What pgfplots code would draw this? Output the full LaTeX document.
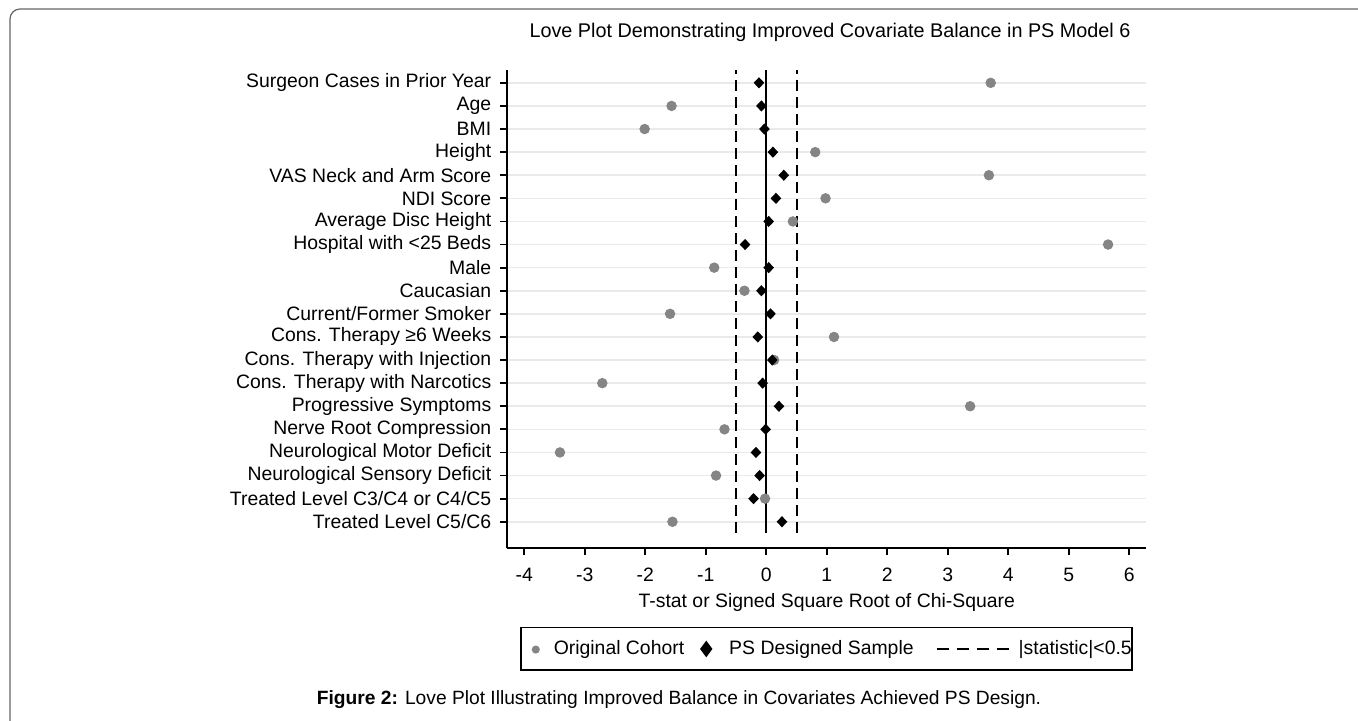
\documentclass[border=0pt]{standalone}
\usepackage{fontspec}
\setmainfont{Liberation Sans}
\usepackage{pgfplots}
\pgfplotsset{compat=1.18}
\definecolor{circgray}{HTML}{858585}
\definecolor{gridgray}{HTML}{EAEAEA}
\definecolor{framegray}{HTML}{666666}
\pgfdeclareplotmark{bigdiamond}{%
  \pgfpathmoveto{\pgfqpoint{0pt}{\pgfplotmarksize}}%
  \pgfpathlineto{\pgfqpoint{0.95\pgfplotmarksize}{0pt}}%
  \pgfpathlineto{\pgfqpoint{0pt}{-\pgfplotmarksize}}%
  \pgfpathlineto{\pgfqpoint{-0.95\pgfplotmarksize}{0pt}}%
  \pgfpathclose\pgfusepathqfill}
\begin{document}
\begin{tikzpicture}
\useasboundingbox (0,0) rectangle (679pt,360pt);
\clip (0,0) rectangle (679pt,360pt);
\draw[framegray, line width=0.6pt, rounded corners=5pt] (5pt,-20pt) -- (5pt,355.5pt) -- (700pt,355.5pt);
\begin{axis}[
  at={(253.65pt,85.85pt)}, anchor=south west,
  x=30.25pt, y=11.55pt,
  xmin=-4.28, xmax=6.28, ymin=-0.15, ymax=20.55,
  axis lines*=left,
  axis line style={line width=1pt,-},
  xtick={-4,-3,-2,-1,0,1,2,3,4,5,6},
  xticklabels={-4,-3,-2,-1,0,1,2,3,4,5,6},
  ytick={1,...,20},
  yticklabels={Treated Level C5/C6, Treated Level C3/C4 or C4/C5, Neurological Sensory Deficit, Neurological Motor Deficit, Nerve Root Compression, Progressive Symptoms, Cons. Therapy with Narcotics, Cons. Therapy with Injection, Cons. Therapy ≥6 Weeks, Current/Former Smoker, Caucasian, Male, Hospital with <25 Beds, Average Disc Height, NDI Score, VAS Neck and Arm Score, Height, BMI, Age, Surgeon Cases in Prior Year},
  tick align=outside, major tick length=3.5pt,
  tick style={black, line width=0.9pt},
  ymajorgrids, grid style={gridgray, line width=0.8pt},
  font=\fontsize{9.7}{12}\selectfont,
  ticklabel style={font=\fontsize{9.7}{12}\selectfont},
  xticklabel style={yshift=-3pt},
  yticklabel style={xshift=-1pt},
  xlabel={T-stat or Signed Square Root of Chi-Square},
  xlabel style={at={(axis description cs:0.5,-0.1123)}, anchor=center, font=\fontsize{9.7}{12}\selectfont},
  legend columns=3,
  legend style={at={(axis description cs:0.4992,-0.2105)}, anchor=center, draw=black, line width=0.8pt,
    font=\fontsize{9.7}{12}\selectfont, inner xsep=0pt, inner ysep=6pt,
    nodes={inner sep=0pt, text height=7.3pt, text depth=2pt},
    column sep=0pt},
]
\addplot[only marks, mark=*, mark size=2.4pt, color=circgray,
  legend image code/.code={\path[draw=none,fill=none] (0pt,0pt) -- (16.5pt,0pt); \fill[circgray] (7.5pt,-0.3pt) circle (1.6pt);}]
  coordinates {(3.71,20) (-1.565,19) (-2.01,18) (0.81,17) (3.68,16) (0.98,15) (0.44,14) (5.65,13) (-0.86,12) (-0.36,11) (-1.59,10) (1.12,9) (0.13,8) (-2.71,7) (3.37,6) (-0.69,5) (-3.41,4) (-0.83,3) (-0.02,2) (-1.55,1)};
\addlegendentry{Original Cohort}
\addplot[only marks, mark=bigdiamond, mark size=2.8pt, color=black,
  legend image code/.code={\path[draw=none,fill=none] (0pt,0pt) -- (22.5pt,0pt); \fill[black] (11pt,3.5pt) -- (13.6pt,0pt) -- (11pt,-3.5pt) -- (8.4pt,0pt) -- cycle;}]
  coordinates {(-0.12,20) (-0.08,19) (-0.03,18) (0.11,17) (0.29,16) (0.16,15) (0.04,14) (-0.35,13) (0.04,12) (-0.08,11) (0.07,10) (-0.14,9) (0.10,8) (-0.06,7) (0.21,6) (-0.01,5) (-0.17,4) (-0.11,3) (-0.21,2) (0.26,1)};
\addlegendentry{PS Designed Sample}
\addplot[black, line width=1pt, dash pattern=on 5.5pt off 3pt,
  legend image code/.code={\path[draw=none,fill=none] (0pt,0pt) -- (52.5pt,0pt); \draw[black, line width=0.7pt, dash pattern=on 6pt off 4pt] (11.5pt,0pt) -- (47.5pt,0pt);}]
  coordinates {(-0.5,0.51) (-0.5,20.55)};
\addlegendentry{|statistic|<0.5\hspace{1.5pt}}
\addplot[black, line width=1pt, dash pattern=on 5.5pt off 3pt, forget plot]
  coordinates {(0.5,0.51) (0.5,20.55)};
\addplot[black, line width=1pt, forget plot]
  coordinates {(0,0.51) (0,20.55)};
\end{axis}
\node[anchor=center, font=\fontsize{9.9}{11}\selectfont] at (415pt,344pt) {Love Plot Demonstrating Improved Covariate Balance in PS Model 6};
\node at (339.5pt,10pt) {\fontsize{9.6}{11}\selectfont\textbf{Figure 2:} Love Plot Illustrating Improved Balance in Covariates Achieved PS Design.};
\end{tikzpicture}
\end{document}
